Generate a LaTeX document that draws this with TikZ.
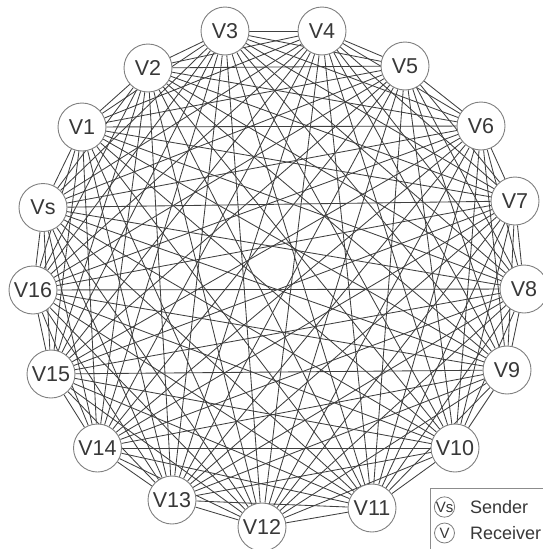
\documentclass[tikz,border=0pt]{standalone}
\usepackage{fontspec}
\setmainfont{Liberation Sans}
\pgfdeclarelayer{bg}
\pgfdeclarelayer{edges}
\pgfsetlayers{bg,edges,main}
\begin{document}
\begin{tikzpicture}[x=1pt,y=-1pt,
  vnode/.style={circle,draw=black!50,line width=0.9pt,fill=white,minimum size=48pt,inner sep=0pt,
    font=\fontsize{21.5}{21.5}\selectfont,text=black!78},
  edge/.style={draw=black!75,line width=0.85pt},
  lnode/.style={circle,draw=black!50,line width=0.8pt,minimum size=20pt,inner sep=0pt,
    font=\fontsize{15}{15}\selectfont,text=black!78},
  ltext/.style={anchor=west,font=\fontsize{18}{18}\selectfont,text=black!78,inner sep=0pt},
  legendbox/.style={draw=black!45,line width=0.8pt}]
\useasboundingbox (0,0) rectangle (543,549);
\begin{pgfonlayer}{bg}
  \fill[white] (0,0) rectangle (543,549);
\end{pgfonlayer}
\foreach \n/\x/\y/\t in {0/43/207.5/Vs, 1/82/127/V1, 2/148/68/V2, 3/225/31/V3, 4/322/31/V4,
  5/405/66/V5, 6/481/126/V6, 7/515/201/V7, 8/524/289/V8, 9/507/370/V9, 10/455/448/V10,
  11/372/508/V11, 12/262/527/V12, 13/172/500/V13, 14/97.5/448/V14, 15/51/374/V15, 16/33/290/V16}
  \node[vnode] (n\n) at (\x,\y) {\t};
\begin{pgfonlayer}{edges}
\foreach \i in {0,...,15}{
  \pgfmathtruncatemacro\s{\i+1}
  \foreach \j in {\s,...,16}{
    \draw[edge] (n\i) -- (n\j);
  }
}
\end{pgfonlayer}
% legend
\draw[legendbox] (548,553) -- (430,553) -- (430,488) -- (548,488);
\node[lnode] (ls) at (444.5,507) {Vs};
\node[ltext] (lst) at (470,507) {Sender};
\node[lnode] (lr) at (444.5,533) {V};
\node[ltext] (lrt) at (470,533) {Receiver};
\end{tikzpicture}
\end{document}
